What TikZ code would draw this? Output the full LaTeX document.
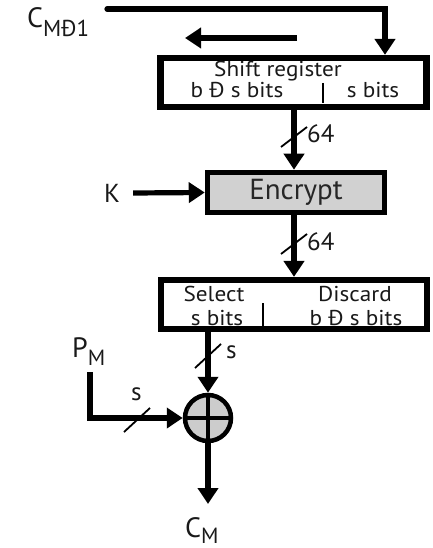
\documentclass[tikz,border=0pt]{standalone}
\usepackage{fontspec}
\setmainfont{PT Sans}
\newfontfamily\widesans{PT Sans}[FakeStretch=1.08]
\usetikzlibrary{arrows.meta}
\newcommand\lowsub[3]{\raisebox{-#1pt}{\fontsize{#2}{#2}\selectfont #3}}
\begin{document}
\begin{tikzpicture}[x=1pt,y=-1pt,
  conn/.style={line width=5.2pt,-{Triangle[length=16pt,width=20pt]}},
  bitbox/.style={draw,line width=6.2pt,minimum width=266pt,minimum height=49pt,inner sep=0pt},
  boxtext/.style={font=\widesans\fontsize{21.5}{21.5}\selectfont,inner sep=0pt,anchor=base,text=black!90},
  bigtext/.style={font=\fontsize{28}{28}\selectfont,inner sep=0pt,text=black!90},
  numtext/.style={font=\fontsize{25}{25}\selectfont,inner sep=0pt,anchor=west,text=black!90},
  slashmark/.style={line width=1.8pt},
]
\useasboundingbox (0,0) rectangle (433,548);

% shift register
\node[bitbox] (shift) at (293.5,82.5) {};
\node[boxtext] (shtitle) at (278,77) {Shift register};
\node[boxtext] (shleft) at (237,98) {b Ð s bits};
\node[boxtext] (shright) at (373,98) {s bits};
\draw[line width=1.6pt] (323,83) -- (323,103);

% feedback into the register
\node[bigtext,anchor=base west] (cprev) at (27,28) {C\lowsub{9}{23}{MÐ1}};
\coordinate (fbstart) at (107,9);
\coordinate (fbdrop) at (385,9);
\draw[conn,line cap=round] (fbstart) -- (fbdrop) -- (fbdrop |- shift.north);

% shift direction
\coordinate (shiftfrom) at (297,38);
\coordinate (shiftto) at (185,38);
\draw[conn] (shiftfrom) -- (shiftto);

% encryption block
\node[draw,line width=5.5pt,fill=black!18,minimum width=177pt,minimum height=40pt,
      inner sep=0pt,text=black!85,font=\fontsize{29}{29}\selectfont] (enc) at (296,192.5) {Encrypt};
\node[font=\fontsize{26}{26}\selectfont,inner sep=0pt,text=black!90] (key) at (112,193) {K};
\draw[conn] ([xshift=13pt]key.east) -- (enc.west);

\coordinate (col) at (294,0);
\draw[conn] (col |- shift.south) -- (col |- enc.north);
\coordinate (sl1) at (294,137);
\draw[slashmark] (sl1) ++(-13,10) -- ++(26,-20);
\node[numtext] (n1) at (307,134) {64};

% select / discard
\node[bitbox] (sel) at (294,304.5) {};
\node[boxtext] (seltop) at (214,301.5) {Select};
\node[boxtext] (selbot) at (217,325) {s bits};
\node[boxtext] (distop) at (355,301.5) {Discard};
\node[boxtext] (disbot) at (356,325) {b Ð s bits};
\draw[line width=1.6pt] (263,303) -- (263,331);

\draw[conn] (col |- enc.south) -- (col |- sel.north);
\coordinate (sl2) at (294,244);
\draw[slashmark] (sl2) ++(-13,10) -- ++(26,-20);
\node[numtext] (n2) at (307,242) {64};

% exclusive or
\node[draw,circle,line width=4.5pt,fill=black!20,minimum size=46pt,inner sep=0pt] (xor) at (208,418) {};
\draw[line width=4pt] (xor.center) ++(0,-23) -- ++(0,46);
\draw[line width=4pt] (xor.center) ++(-23,0) -- ++(46,0);

\draw[conn] (sel.south -| xor.north) -- (xor.north);
\coordinate (sl3) at (208,356);
\draw[slashmark] (sl3) ++(-13,12) -- ++(26,-24);
\node[numtext] (s1) at (226,352) {s};

\node[bigtext,anchor=base west] (pm) at (72,357) {P\lowsub{8}{22}{M}};
\coordinate (pmtop) at (90,372);
\draw[conn] (pmtop) |- (xor.west);
\coordinate (sl4) at (137,420);
\draw[slashmark] (sl4) ++(-13,12) -- ++(26,-24);
\node[numtext] (s2) at (131,394) {s};

\node[bigtext,anchor=base west] (cm) at (185,537) {C\lowsub{6}{22}{M}};
\coordinate (cmtip) at (208,504);
\draw[conn] (xor.south) -- (cmtip);
\end{tikzpicture}
\end{document}
